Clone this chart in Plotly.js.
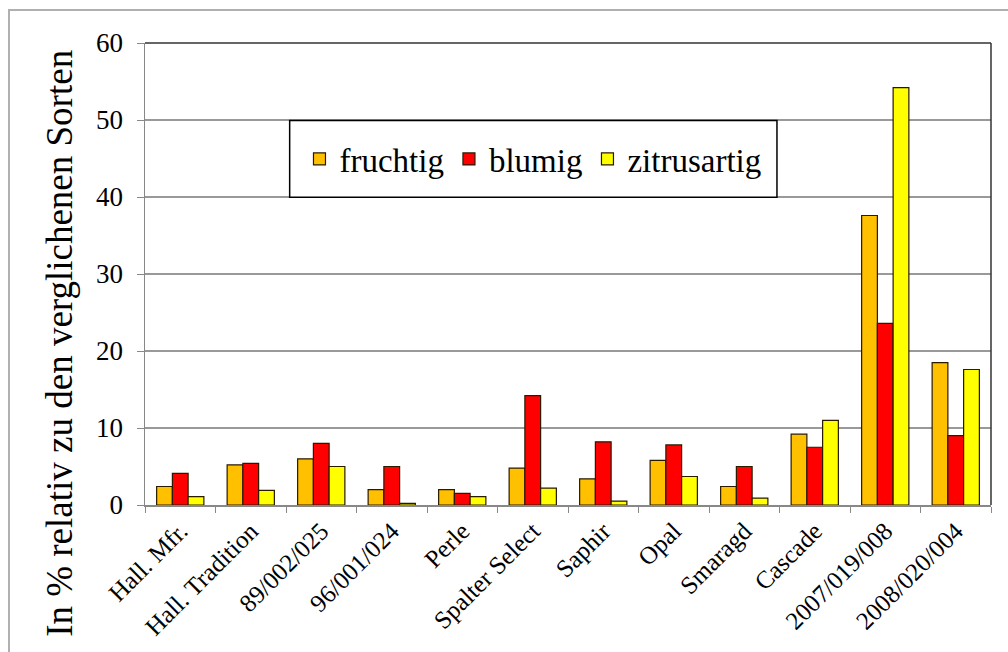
<!DOCTYPE html>
<html>
<head>
<meta charset="utf-8">
<script src="https://cdn.plot.ly/plotly-3.0.1.min.js"></script>
<style>
html,body{margin:0;padding:0;background:#fff;}
#wrap{position:relative;width:1008px;height:652px;overflow:hidden;}
#frame{position:absolute;left:8px;top:9px;width:1100px;height:700px;border-top:2px solid #b0b0b0;border-left:2px solid #b0b0b0;pointer-events:none;z-index:5;}
#chart{position:absolute;left:0;top:0;width:1008px;height:652px;}
</style>
</head>
<body>
<div id="wrap">
<div id="chart"></div>
<div id="frame"></div>
</div>
<script>
const categories = ["Hall. Mfr.", "Hall. Tradition", "89/002/025", "96/001/024", "Perle", "Spalter Select", "Saphir", "Opal", "Smaragd", "Cascade", "2007/019/008", "2008/020/004"];
const fruchtig   = [2.4, 5.2, 6.0, 2.0, 2.0, 4.8, 3.4, 5.8, 2.4, 9.2, 37.6, 18.5];
const blumig     = [4.1, 5.4, 8.0, 5.0, 1.5, 14.2, 8.2, 7.8, 5.0, 7.5, 23.6, 9.0];
const zitrusartig= [1.1, 1.9, 5.0, 0.2, 1.1, 2.2, 0.5, 3.7, 0.9, 11.0, 54.2, 17.6];
const seriesNames = ["fruchtig", "blumig", "zitrusartig"];
const seriesColors = ["#FFC000", "#FF0000", "#FFFF00"];
const yTicks = [0, 10, 20, 30, 40, 50, 60];
const yTitle = "In % relativ zu den verglichenen Sorten";

const serif = "Liberation Serif";
const seriesData = [fruchtig, blumig, zitrusartig];
const traces = seriesData.map((vals, i) => ({
  type: "bar",
  name: seriesNames[i],
  x: categories,
  y: vals,
  marker: {color: seriesColors[i], line: {color: "#2a1a00", width: 1.2}},
  hoverinfo: "x+y+name"
}));

const layout = {
  width: 1008, height: 652,
  margin: {l: 145, r: 17, t: 43, b: 147},
  paper_bgcolor: "#fff", plot_bgcolor: "#fff",
  barmode: "group", bargap: 0.33, bargroupgap: 0,
  font: {family: serif, color: "#000"},
  showlegend: true,
  legend: {
    orientation: "h", x: 0.1826, y: 0.749, xanchor: "left", yanchor: "middle",
    bgcolor: "rgba(0,0,0,0)", borderwidth: 0,
    font: {family: serif, size: 33, color: "#000"},
    traceorder: "normal", itemwidth: 30
  },
  xaxis: {
    type: "category",
    tickangle: -45,
    tickfont: {family: serif, size: 25, color: "#000"},
    ticks: "outside", tickson: "boundaries", ticklen: 6, tickcolor: "#888",
    showline: true, linecolor: "#888", linewidth: 1.5,
    showgrid: false, zeroline: false, fixedrange: true
  },
  yaxis: {
    range: [0, 60],
    tickvals: yTicks,
    tickfont: {family: serif, size: 27, color: "#000"},
    ticks: "outside", ticklen: 7, tickcolor: "#888",
    ticklabelstandoff: 8,
    showline: true, linecolor: "#888", linewidth: 1.5,
    showgrid: true, gridcolor: "#999", gridwidth: 1.2,
    zeroline: false
  },
  annotations: [
    {text: yTitle, xref: "paper", yref: "paper", x: -0.101, y: 0.35, xanchor: "center", yanchor: "middle",
     textangle: -90, showarrow: false, font: {family: serif, size: 37, color: "#000"}}
  ],
  shapes: [
    {type: "line", xref: "paper", yref: "paper", x0: 0, x1: 1, y0: 1, y1: 1, line: {color: "#333", width: 1.5}},
    {type: "line", xref: "paper", yref: "paper", x0: 1, x1: 1, y0: 0, y1: 1, line: {color: "#333", width: 1.5}},
    {type: "rect", xref: "paper", yref: "paper", x0: 0.171, x1: 0.747, y0: 0.666, y1: 0.832, fillcolor: "#fff", line: {color: "#000", width: 1.5}, layer: "above"}
  ]
};

Plotly.newPlot("chart", traces, layout, {displayModeBar: false, staticPlot: true});
</script>
</body>
</html>
